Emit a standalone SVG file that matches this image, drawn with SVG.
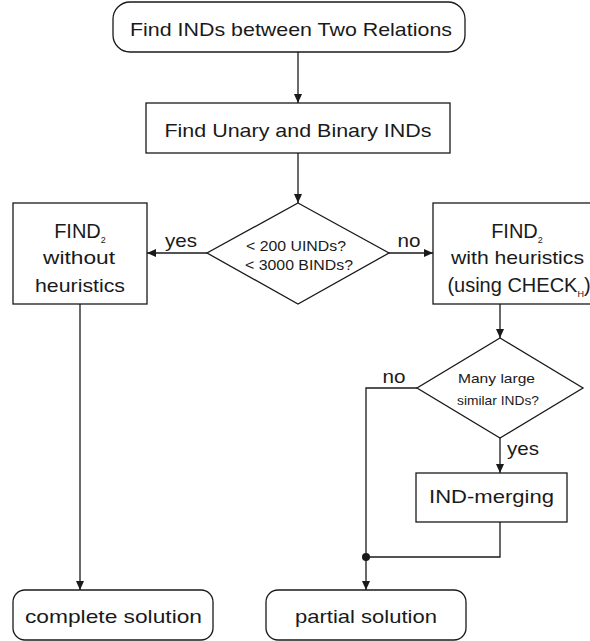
<svg xmlns="http://www.w3.org/2000/svg" width="590" height="641" viewBox="0 0 590 641">
  <style>
    .box { fill: #ffffff; stroke: #1a1a1a; stroke-width: 1.3; }
    .line { fill: none; stroke: #1a1a1a; stroke-width: 1.3; }
    text { font-family: "Liberation Sans", Arial, sans-serif; fill: #1a1a1a; }
    .t { font-size: 19px; text-anchor: middle; }
    .w { font-size: 20px; text-anchor: middle; }
    .d { font-size: 15px; text-anchor: middle; }
    .s { font-size: 13px; text-anchor: middle; }
    .sub { font-size: 9px; }
  </style>
  <defs>
    <marker id="arrow" markerWidth="10" markerHeight="8" refX="9" refY="4" orient="auto" markerUnits="userSpaceOnUse">
      <path d="M0,0 L9,4 L0,8 Z" fill="#1a1a1a"/>
    </marker>
  </defs>

  <g id="connectors">
    <line class="line" x1="298" y1="52" x2="298" y2="103" marker-end="url(#arrow)"/>
    <line class="line" x1="298" y1="153" x2="298" y2="203" marker-end="url(#arrow)"/>
    <line class="line" x1="207" y1="253" x2="147" y2="253" marker-end="url(#arrow)"/>
    <line class="line" x1="389" y1="253" x2="433" y2="253" marker-end="url(#arrow)"/>
    <line class="line" x1="80" y1="304" x2="80" y2="590" marker-end="url(#arrow)"/>
    <line class="line" x1="500" y1="304" x2="500" y2="338" marker-end="url(#arrow)"/>
    <line class="line" x1="500" y1="438" x2="500" y2="473" marker-end="url(#arrow)"/>
    <polyline class="line" points="417,388 366,388 366,590" marker-end="url(#arrow)"/>
    <polyline class="line" points="500,522 500,557 366,557"/>
    <circle cx="366" cy="557" r="4" fill="#1a1a1a"/>
    <text class="t" x="181" y="247" textLength="32" lengthAdjust="spacingAndGlyphs">yes</text>
    <text class="t" x="409" y="247" textLength="23" lengthAdjust="spacingAndGlyphs">no</text>
    <text class="t" x="394" y="383" textLength="23" lengthAdjust="spacingAndGlyphs">no</text>
    <text class="t" x="523" y="455" textLength="32" lengthAdjust="spacingAndGlyphs">yes</text>
  </g>

  <g id="start">
    <rect class="box" x="113" y="2" width="352" height="50" rx="17"/>
    <text class="t" x="291" y="36" textLength="322" lengthAdjust="spacingAndGlyphs">Find INDs between Two Relations</text>
  </g>

  <g id="find-unary-binary">
    <rect class="box" x="146" y="103" width="304" height="50"/>
    <text class="t" x="298" y="137" textLength="267" lengthAdjust="spacingAndGlyphs">Find Unary and Binary INDs</text>
  </g>

  <g id="decision-size">
    <polygon class="box" points="298,203 389,253 298,304 207,253"/>
    <text class="d" x="296" y="251" textLength="100" lengthAdjust="spacingAndGlyphs">&lt; 200 UINDs?</text>
    <text class="d" x="299" y="270" textLength="108" lengthAdjust="spacingAndGlyphs">&lt; 3000 BINDs?</text>
  </g>

  <g id="find2-plain">
    <rect class="box" x="13" y="203" width="134" height="101"/>
    <text class="w" x="80" y="238">FIND<tspan class="sub" dy="5">2</tspan></text>
    <text class="t" x="79" y="264" textLength="72" lengthAdjust="spacingAndGlyphs">without</text>
    <text class="t" x="80" y="292" textLength="90" lengthAdjust="spacingAndGlyphs">heuristics</text>
  </g>

  <g id="find2-heuristics">
    <rect class="box" x="433" y="203" width="170" height="101"/>
    <text class="w" x="517" y="238">FIND<tspan class="sub" dy="5">2</tspan></text>
    <text class="t" x="517.5" y="264" textLength="133" lengthAdjust="spacingAndGlyphs">with heuristics</text>
    <text class="w" x="519" y="292">(using CHECK<tspan class="sub" dy="5">H</tspan><tspan dy="-5">)</tspan></text>
  </g>

  <g id="decision-similar">
    <polygon class="box" points="500,338 583,388 500,438 417,388"/>
    <text class="s" x="496.5" y="383" textLength="77" lengthAdjust="spacingAndGlyphs">Many large</text>
    <text class="s" x="498" y="405" textLength="82" lengthAdjust="spacingAndGlyphs">similar INDs?</text>
  </g>

  <g id="ind-merging">
    <rect class="box" x="416" y="473" width="151" height="49"/>
    <text class="t" x="491.5" y="503" textLength="125" lengthAdjust="spacingAndGlyphs">IND-merging</text>
  </g>

  <g id="complete-solution">
    <rect class="box" x="13" y="590" width="200" height="50" rx="12"/>
    <text class="t" x="113.5" y="623" textLength="177" lengthAdjust="spacingAndGlyphs">complete solution</text>
  </g>

  <g id="partial-solution">
    <rect class="box" x="266" y="590" width="200" height="50" rx="12"/>
    <text class="t" x="366" y="623" textLength="142" lengthAdjust="spacingAndGlyphs">partial solution</text>
  </g>
</svg>
